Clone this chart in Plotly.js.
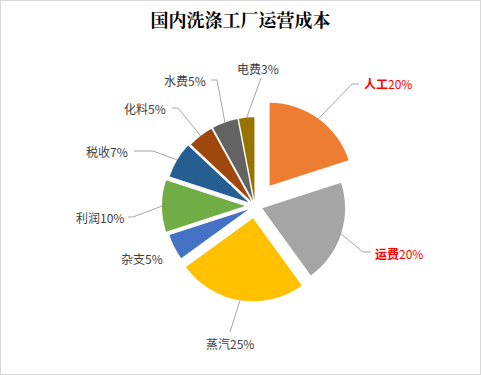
<!DOCTYPE html>
<html><head><meta charset="utf-8">
<script src="https://cdn.plot.ly/plotly-3.0.1.min.js"></script>
<style>
body{margin:0;background:#fff;}
#wrap{position:relative;width:481px;height:375px;}
#chart{width:481px;height:375px;}
#frame{position:absolute;left:0;top:0;width:481px;height:375px;box-sizing:border-box;border:1px solid #d9d9d9;pointer-events:none;}
</style>
</head><body>
<div id="wrap"><div id="chart"></div><div id="frame"></div></div>
<script>
// ---- data ----
const categories = ['人工','运费','蒸汽','杂支','利润','税收','化料','水费','电费'];
const values = [20, 20, 25, 5, 10, 7, 5, 5, 3];
const percentLabels = ['20%','20%','25%','5%','10%','7%','5%','5%','3%'];
const highlighted = [true, true, false, false, false, false, false, false, false];
const chartTitle = '国内洗涤工厂运营成本';

// ---- styles / layout ----
const colors = ['#ED7D31','#A5A5A5','#FFC000','#4472C4','#70AD47','#255E91','#9E480E','#636363','#997300'];
const pulls = [0.30, 0.09, 0.15, 0.09, 0.12, 0.09, 0.07, 0.07, 0.07];
const W = 481, H = 375, CX = 255, CY = 206, R = 83;
// label placement (pixels): text anchor point, alignment, leader line bend points
const labelPlace = [
  {x:362, y:84,  xa:'left',   bend:[[352,84],[359,84]]},
  {x:373, y:253, xa:'left',   bend:[[363,252],[371,252]]},
  {x:230, y:343, xa:'center', bend:[[230,332]]},
  {x:165, y:258, xa:'right',  bend:null},
  {x:126, y:217, xa:'right',  bend:[[133,217],[128,217]]},
  {x:130, y:151, xa:'right',  bend:[[153,151],[134,151]]},
  {x:168, y:108, xa:'right',  bend:[[178,108],[172,108]]},
  {x:208, y:81,  xa:'right',  bend:[[217,80],[211,80]]},
  {x:258, y:68,  xa:'center', bend:[[261,78]]}
];

const maxPull = Math.max(...pulls);
const half = R * (1 + maxPull);
const domX = [(CX - half) / W, (CX + half) / W];
const domY = [1 - (CY + half) / H, 1 - (CY - half) / H];

const px = v => v / W, py = v => 1 - v / H;
const total = values.reduce((a, b) => a + b, 0);
let cum = 0;
const shapes = [], annotations = [];
values.forEach((v, i) => {
  const mid = (cum + v / 2) / total * 2 * Math.PI;
  cum += v;
  const d = R * (1 + pulls[i]);
  const ax = CX + d * Math.sin(mid), ay = CY - d * Math.cos(mid);
  const lp = labelPlace[i];
  if (lp.bend) {
    let path = `M ${px(ax)},${py(ay)}`;
    lp.bend.forEach(p => { path += ` L ${px(p[0])},${py(p[1])}`; });
    shapes.push({type:'path', xref:'paper', yref:'paper', path:path,
      line:{color:'#a6a6a6', width:1}});
  }
  const txt = highlighted[i]
    ? `<b>${categories[i]}</b>${percentLabels[i]}`
    : `${categories[i]}${percentLabels[i]}`;
  annotations.push({
    x: px(lp.x), y: py(lp.y), xref:'paper', yref:'paper',
    xanchor: lp.xa, yanchor:'middle', showarrow:false, text: txt,
    font:{family:'"Noto Sans CJK SC", "Noto Sans", sans-serif', size:12,
          color: highlighted[i] ? '#FF0000' : '#404040'}
  });
});

const trace = {
  type:'pie', labels:categories, values:values, sort:false,
  direction:'clockwise', rotation:0, pull:pulls,
  marker:{colors:colors, line:{width:0}},
  textinfo:'none', hoverinfo:'none',
  domain:{x:domX, y:domY}
};

const layout = {
  width:W, height:H, margin:{l:0, r:0, t:0, b:0},
  paper_bgcolor:'#ffffff', showlegend:false,
  title:{text:`<b>${chartTitle}</b>`, x:0.5, xanchor:'center', xref:'container',
    y:1 - 21 / H, yref:'container', yanchor:'middle',
    font:{family:'"Noto Serif CJK SC", "Noto Sans CJK SC", serif', size:18, color:'#000000'}},
  shapes:shapes, annotations:annotations
};

Plotly.newPlot('chart', [trace], layout, {displayModeBar:false, staticPlot:true});
</script>
</body></html>
